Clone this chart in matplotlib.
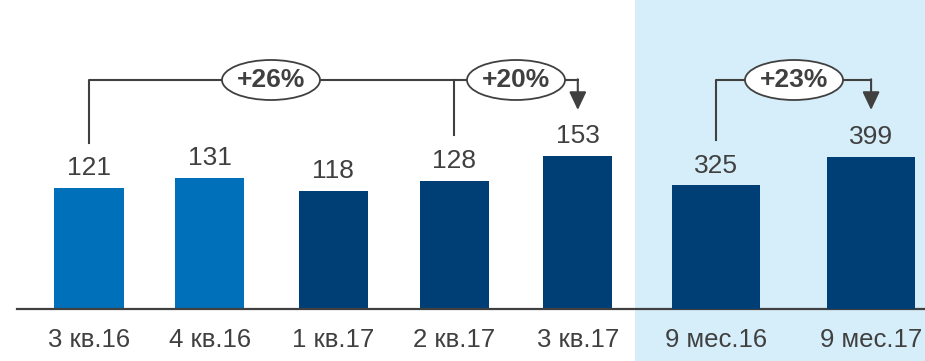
import matplotlib.pyplot as plt
from matplotlib.patches import Ellipse, Rectangle

plt.rcParams['font.family'] = ['Liberation Sans', 'DejaVu Sans']

quarters = ['3 кв.16', '4 кв.16', '1 кв.17', '2 кв.17', '3 кв.17']
quarter_vals = [121, 131, 118, 128, 153]
ytd = ['9 мес.16', '9 мес.17']
ytd_vals = [325, 399]
growth = ['+26%', '+20%', '+23%']

LIGHT = '#0070BA'
DARK = '#003F75'
GREY = '#404040'
SHADE = '#D6EEFA'

W, H = 925, 361
fig = plt.figure(figsize=(W / 100, H / 100), dpi=100)
fig.patches.append(Rectangle((635 / W, 0), 1 - 635 / W, 1, transform=fig.transFigure,
                             facecolor=SHADE, edgecolor='none', zorder=-1))

# one x unit = 122.2 px, one y unit = 1 px above the baseline
unit = 122.2
base = 52
ax = fig.add_axes([0, base / H, 1, (H - base) / H])
ax.set_xlim(-89 / unit, (W - 89) / unit)
ax.set_ylim(0, H - base)
ax.patch.set_alpha(0)
ax2 = ax.twinx()
ax2.patch.set_alpha(0)
k = 0.381  # 9-month bars use their own scale
ax2.set_ylim(0, (H - base) / k)
for a in (ax, ax2):
    for s in a.spines.values():
        s.set_visible(False)
    a.set_yticks([])

qx = [0, 0.99, 2.0, 2.99, 4.0]
yx = [5.13, 6.40]
ax.bar(qx, quarter_vals, width=0.565, color=[LIGHT, LIGHT, DARK, DARK, DARK], zorder=2)
ax2.bar(yx, ytd_vals, width=0.72, color=DARK, zorder=2)

for x, v in zip(qx, quarter_vals):
    ax.annotate(str(v), (x, v), xytext=(0, 5.5), textcoords='offset points',
                ha='center', va='bottom', fontsize=19, color=GREY)
for x, v in zip(yx, ytd_vals):
    ax2.annotate(str(v), (x, v), xytext=(0, 5.5), textcoords='offset points',
                 ha='center', va='bottom', fontsize=19, color=GREY)

ax.set_xticks(qx + yx)
ax.set_xticklabels(quarters + ytd, fontsize=18.5, color=GREY)
ax.tick_params(axis='x', length=0, pad=14)
ax.plot([-72 / unit, (W - 89) / unit], [0, 0], color=GREY, lw=1.6, clip_on=False, zorder=3)

# growth brackets
top = 229
off = 45
yh = [v * k for v in ytd_vals]
lw = 1.5
ax.plot([qx[0], qx[0], 4.0, 4.0], [quarter_vals[0] + off, top, top, top], color=GREY, lw=lw, zorder=3)
ax.plot([qx[3], qx[3]], [quarter_vals[3] + off + 1, top], color=GREY, lw=lw, zorder=3)
ax.plot([yx[0], yx[0], yx[1]], [yh[0] + off, top, top], color=GREY, lw=lw, zorder=3)
arrow = dict(arrowstyle='-|>,head_length=0.55,head_width=0.26', color=GREY, lw=lw,
             mutation_scale=20, shrinkA=0, shrinkB=0)
ax.annotate('', xy=(qx[4], quarter_vals[4] + 46), xytext=(qx[4], top + 0.7), arrowprops=arrow, zorder=3)
ax.annotate('', xy=(yx[1], yh[1] + 47), xytext=(yx[1], top + 0.7), arrowprops=arrow, zorder=3)

for cx, label in zip([(271 - 89) / unit, (516 - 89) / unit, (794 - 89) / unit], growth):
    ax.add_patch(Ellipse((cx, top), 98 / unit, 40, facecolor='white', edgecolor=GREY, lw=1.3, zorder=4))
    ax.text(cx, top, label, ha='center', va='center', fontsize=19, fontweight='bold', color=GREY, zorder=5)

fig.savefig('out.png', dpi=100)
